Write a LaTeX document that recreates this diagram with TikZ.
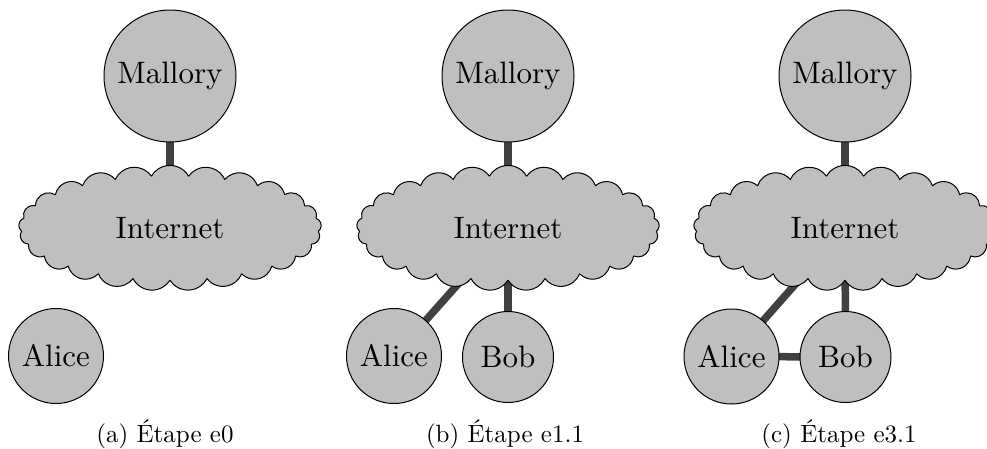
\documentclass[tikz,border=0pt]{standalone}
\usetikzlibrary{shapes.geometric,backgrounds}
% host and network labels: 10pt design size, enlarged
\newcommand{\hostlbl}[1]{\scalebox{1.24}{#1}}
% cloud outline: 25 puffs on an ellipse, one puff centred on top
\pgfmathsetmacro\cloudA{59.5}
\pgfmathsetmacro\cloudB{20.9}
\pgfmathsetmacro\cloudStep{360/25}
\pgfmathsetmacro\cloudSx{\cloudA*cos(90+0.5*\cloudStep)}
\pgfmathsetmacro\cloudSy{\cloudB*sin(90+0.5*\cloudStep)}
\def\cloudpath{}
\foreach \k in {0,...,24}{
  \pgfmathsetmacro\ta{90+(\k+0.5)*\cloudStep}
  \pgfmathsetmacro\tb{\ta+\cloudStep}
  \pgfmathsetmacro\dx{\cloudA*cos(\tb)-\cloudA*cos(\ta)}
  \pgfmathsetmacro\dy{\cloudB*sin(\tb)-\cloudB*sin(\ta)}
  \pgfmathsetmacro\ph{atan2(\dy,\dx)}
  \pgfmathsetmacro\rr{veclen(\dx,\dy)/sqrt(3)}
  \xdef\cloudpath{\cloudpath arc[start angle={\ph+210},end angle={\ph+330},radius=\rr pt]}
}
\newcommand{\cloudat}[1]{%
  \draw[cloudline] ([shift={(\cloudSx pt,\cloudSy pt)}]#1) \cloudpath -- cycle;}
\begin{document}
\begin{tikzpicture}[x=0.4pt,y=-0.4pt,
  host/.style={circle,draw=black,line width=0.4pt,fill=black!25,font=\normalsize,inner sep=0pt},
  bigHost/.style={host,minimum size=52.8pt},
  smallHost/.style={host,minimum size=38pt},
  bobHost/.style={host,minimum size=36.4pt},
  cloudline/.style={draw=black,line width=0.4pt,fill=black!25,line join=round},
  net/.style={ellipse,font=\normalsize,minimum width=121.6pt,minimum height=50pt,inner sep=0pt},
  link/.style={line width=3pt,draw=black!75},
  caption/.style={font=\normalsize}]
\useasboundingbox (0,0) rectangle (987,448);
% (a) stage e0
\node[bigHost] (ma) at (170,76) {\hostlbl{Mallory}};
\coordinate (ia0) at (170,228);
\cloudat{ia0}
\node[net] (ia) at (ia0) {\hostlbl{Internet}};
\node[smallHost] (aa) at (56,356) {\hostlbl{Alice}};
\node[caption] (ca) at (165,434) {(a) Étape e0};
% (b) stage e1.1
\node[bigHost] (mb) at (508,76) {\hostlbl{Mallory}};
\coordinate (ib0) at (508,228);
\cloudat{ib0}
\node[net] (ib) at (ib0) {\hostlbl{Internet}};
\node[smallHost] (ab) at (394,356) {\hostlbl{Alice}};
\node[bobHost] (bb) at (508,357) {\hostlbl{Bob}};
\node[caption] (cb) at (505,434) {(b) Étape e1.1};
% (c) stage e3.1
\node[bigHost] (mc) at (845,76) {\hostlbl{Mallory}};
\coordinate (ic0) at (845,228);
\cloudat{ic0}
\node[net] (ic) at (ic0) {\hostlbl{Internet}};
\node[smallHost] (ac) at (731.5,356.5) {\hostlbl{Alice}};
\node[bobHost] (bc) at (845.5,357) {\hostlbl{Bob}};
\node[caption] (cc) at (839,434) {(c) Étape e3.1};
% links run centre to centre, behind the nodes
\begin{scope}[on background layer]
\draw[link] (ma.center) -- (ia.center);
\draw[link] (mb.center) -- (ib.center);
\draw[link] (ab.center) -- (ib.center);
\draw[link] (bb.center) -- (ib.center);
\draw[link] (mc.center) -- (ic.center);
\draw[link] (ac.center) -- (ic.center);
\draw[link] (bc.center) -- (ic.center);
\draw[link] (ac.center) -- (bc.center);
\end{scope}
\end{tikzpicture}
\end{document}
